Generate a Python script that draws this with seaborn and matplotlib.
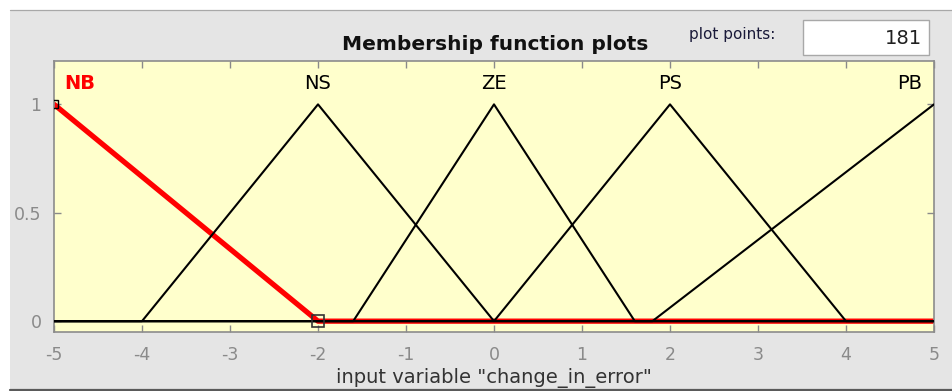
import matplotlib
matplotlib.use("Agg")
import matplotlib.pyplot as plt
from matplotlib.patches import Rectangle
from matplotlib.lines import Line2D
import numpy as np
import pandas as pd
import seaborn as sns

# Membership functions of the input "change_in_error", given by their vertices
mf_names = ["NB", "NS", "ZE", "PS", "PB"]
nb_x = [-5, -2, 5]
nb_y = [1, 0, 0]
ns_x = [-5, -4, -2, 0, 5]
ns_y = [0, 0, 1, 0, 0]
ze_x = [-5, -1.6, 0, 1.6, 5]
ze_y = [0, 0, 1, 0, 0]
ps_x = [-5, 0, 2, 4, 5]
ps_y = [0, 0, 1, 0, 0]
pb_x = [-5, 1.8, 5]
pb_y = [0, 0, 1]
label_x = [-4.88, -2, 0, 2, 4.86]
label_ha = ["left", "center", "center", "center", "right"]
x_ticks = [-5, -4, -3, -2, -1, 0, 1, 2, 3, 4, 5]
y_ticks = [0, 0.5, 1]
y_tick_labels = ["0", "0.5", "1"]
plot_points = 181

W, H = 953, 391
PANEL = "#e5e5e5"
AXBG = "#ffffcc"
TICKGRAY = "#8a8a8a"

sns.set_style("ticks")
plt.rcParams["font.family"] = ["DejaVu Sans"]

fig = plt.figure(figsize=(W / 100, H / 100), dpi=100)
fig.patch.set_facecolor("white")

# grey window panel with its frame lines
fig.add_artist(Rectangle((10 / W, 1 - 389 / H), 1 - 10 / W, (389 - 9.5) / H,
                         transform=fig.transFigure, facecolor=PANEL,
                         edgecolor="none", zorder=-10))
fig.add_artist(Line2D([10 / W, 1], [1 - 9.5 / H] * 2, color="#a8a8a8", lw=0.9))
fig.add_artist(Line2D([10 / W, 1], [1 - 389.5 / H] * 2, color="#5a5a5a", lw=1.6))

ax = fig.add_axes([54 / W, 1 - 332 / H, (934 - 54) / W, (332 - 61) / H])
ax.set_facecolor(AXBG)

frames = []
for name, xs, ys in zip(mf_names, [nb_x, ns_x, ze_x, ps_x, pb_x],
                        [nb_y, ns_y, ze_y, ps_y, pb_y]):
    frames.append(pd.DataFrame({"x": xs, "mu": ys, "mf": name}))
df = pd.concat(frames, ignore_index=True)

# selected function (NB) in thick red, underneath the others
sns.lineplot(data=df[df.mf == "NB"], x="x", y="mu", color="red", lw=3.8,
             estimator=None, sort=False, ax=ax, zorder=2, legend=False)
others = df[df.mf != "NB"]
sns.lineplot(data=others, x="x", y="mu", hue="mf", units="mf",
             palette={n: "black" for n in mf_names[1:]}, lw=1.5,
             estimator=None, sort=False, ax=ax, zorder=3, legend=False)

# vertex handles of the selected function
ax.plot([nb_x[0]], [nb_y[0]], ls="none", marker="s",
        ms=6, mfc="none", mec="black", mew=1.0, zorder=4)
ax.plot([nb_x[1]], [nb_y[1]], ls="none", marker="s",
        ms=8, mfc="none", mec="#333333", mew=1.2, zorder=4)

for name, lx, ha in zip(mf_names, label_x, label_ha):
    sel = name == "NB"
    ax.text(lx, 1.094, name, ha=ha, va="center", fontsize=14,
            color="red" if sel else "black",
            fontweight="bold" if sel else "normal")

ax.set_xlim(-5, 5)
ax.set_ylim(-0.05, 1.2)
ax.set_xticks(x_ticks)
ax.set_xticklabels([str(t) for t in x_ticks])
ax.set_yticks(y_ticks)
ax.set_yticklabels(y_tick_labels)
ax.tick_params(direction="in", length=5, width=1, color=TICKGRAY,
               labelcolor=TICKGRAY, labelsize=12.5, top=True, right=True)
ax.tick_params(axis="x", pad=10)
ax.tick_params(axis="y", pad=9)
for s in ax.spines.values():
    s.set_color("#8c8c8c")
    s.set_linewidth(1.2)
ax.set_xlabel("")
ax.set_ylabel("")

fig.text(494 / W, 1 - 378 / H, 'input variable "change_in_error"',
         ha="center", va="center", fontsize=14, color="#333333")

fig.text(495 / W, 1 - 45 / H, "Membership function plots", ha="center",
         va="center", fontsize=14.5, fontweight="bold", color="#111111")
fig.text(732 / W, 1 - 34 / H, "plot points:", ha="center", va="center",
         fontsize=11, color="#1a1a3a")
fig.add_artist(Rectangle((803 / W, 1 - 55 / H), 126 / W, 35 / H,
                         transform=fig.transFigure, facecolor="white",
                         edgecolor="#a8a8a8", lw=1.0))
fig.text(922 / W, 1 - 38 / H, str(plot_points), ha="right", va="center",
         fontsize=14, color="#202020")

fig.savefig("out.png", dpi=100, facecolor=fig.get_facecolor())
